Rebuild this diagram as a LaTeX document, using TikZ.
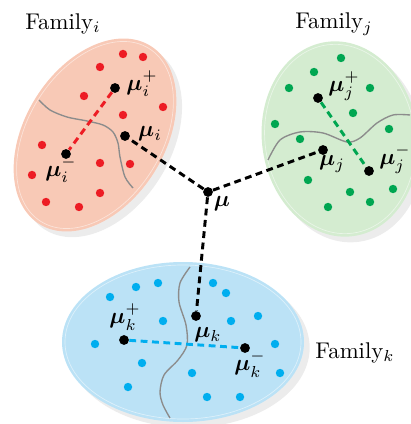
\documentclass[tikz,border=0pt]{standalone}
\usepackage{bm}
\usetikzlibrary{shadows}
\definecolor{redpt}{RGB}{237,28,36}
\definecolor{redbg}{RGB}{248,201,182}
\definecolor{greenpt}{RGB}{0,166,81}
\definecolor{greenbg}{RGB}{212,236,208}
\definecolor{bluept}{RGB}{0,174,239}
\definecolor{bluebg}{RGB}{187,226,246}
\begin{document}
\begin{tikzpicture}[x=0.44pt,y=-0.44pt,
    sample/.style={circle,inner sep=0pt,minimum size=3.7pt},
    mean/.style={circle,fill=black,inner sep=0pt,minimum size=4.3pt},
    meanline/.style={line width=1.3pt,dash pattern=on 3pt off 2pt},
    famshade/.style={drop shadow={opacity=0.15,shadow xshift=2.5pt,shadow yshift=-2.5pt}},
    boundary/.style={draw=black!45,line width=0.6pt}]
  \useasboundingbox (0,0) rectangle (410,424);
  % families
  \fill[redbg,famshade,rotate around={58:(95,135)}] (95,135) ellipse (105 and 70);
  \draw[white,opacity=0.5,line width=0.3pt,rotate around={58:(95,135)}] (95,135) ellipse (102 and 67);
  \fill[greenbg,famshade,rotate around={8:(340,139)}] (340,139) ellipse (78 and 98);
  \draw[white,opacity=0.5,line width=0.3pt,rotate around={8:(340,139)}] (340,139) ellipse (75 and 95);
  \fill[bluebg,famshade] (183,342) ellipse (121 and 80);
  \draw[white,opacity=0.5,line width=0.3pt] (183,342) ellipse (118 and 77);
  % boundaries
  \draw[boundary] plot[smooth] coordinates {(39,100) (50,110) (67,117) (87,121) (103,125)
    (113,132) (118,143) (120,157) (125,177) (133,188)};
  \draw[boundary] plot[smooth] coordinates {(268,160) (280,140) (300,132) (323,133)
    (347,142) (360,138) (377,123) (393,115) (410,115)};
  \draw[boundary] plot[smooth] coordinates {(190,267) (180,283) (179,302) (186,325)
    (187,345) (178,360) (164,375) (160,392) (163,405) (170,418)};
  % samples
  \draw[every node/.style={sample,fill=redpt}]
    (123,54) node (r1){} (143,57) node (r2){} (100,67) node (r3){}
    (84,96) node (r4){} (163,107) node (r5){} (123,115) node (r6){}
    (42,145) node (r7){} (100,163) node (r8){} (130,164) node (r9){}
    (32,175) node (r10){} (100,193) node (r11){} (46,202) node (r12){}
    (79,207) node (r13){};
  \draw[every node/.style={sample,fill=greenpt}]
    (341,58) node (g1){} (314,72) node (g2){} (289,88) node (g3){}
    (370,88) node (g4){} (353,113) node (g5){} (275,124) node (g6){}
    (389,129) node (g7){} (300,139) node (g8){} (308,180) node (g9){}
    (350,192) node (g10){} (393,189) node (g11){} (328,207) node (g12){}
    (370,202) node (g13){};
  \draw[every node/.style={sample,fill=bluept}]
    (110,297) node (b1){} (136,287) node (b2){} (158,283) node (b3){}
    (213,283) node (b4){} (226,293) node (b5){} (163,321) node (b6){}
    (231,321) node (b7){} (258,316) node (b8){} (95,344) node (b9){}
    (275,344) node (b10){} (142,363) node (b11){} (192,373) node (b12){}
    (280,373) node (b13){} (128,387) node (b14){} (207,397) node (b15){}
    (240,397) node (b16){};
  % means
  \draw
    (208,192) node[mean] (mu){}
    (125,136) node[mean] (mui){}
    (115,88) node[mean] (muip){}
    (66,154) node[mean] (muim){}
    (323,150) node[mean] (muj){}
    (318,98) node[mean] (mujp){}
    (369,171) node[mean] (mujm){}
    (196,316) node[mean] (muk){}
    (124,340) node[mean] (mukp){}
    (245,348) node[mean] (mukm){};
  % labels
  \draw
    (222,204) node (lmu){$\bm{\mu}$}
    (150,134) node (lmui){$\bm{\mu}_i$}
    (142,84) node (lmuip){$\bm{\mu}_i^+$}
    (61,170) node (lmuim){$\bm{\mu}_i^-$}
    (332,164) node (lmuj){$\bm{\mu}_j$}
    (344,86) node (lmujp){$\bm{\mu}_j^+$}
    (395,159) node (lmujm){$\bm{\mu}_j^-$}
    (208,335) node (lmuk){$\bm{\mu}_k$}
    (125,317) node (lmukp){$\bm{\mu}_k^+$}
    (250,364) node (lmukm){$\bm{\mu}_k^-$}
    (63,24) node (fami){Family$_i$}
    (334,24) node (famj){Family$_j$}
    (355,353) node (famk){Family$_k$};
  \begin{scope}[meanline]
    \draw (mu) to (mui);
    \draw (mu) to (muj);
    \draw (mu) to (muk);
    \draw[redpt] (muip) to (muim);
    \draw[greenpt] (mujp) to (mujm);
    \draw[bluept] (mukp) to (mukm);
  \end{scope}
\end{tikzpicture}
\end{document}
